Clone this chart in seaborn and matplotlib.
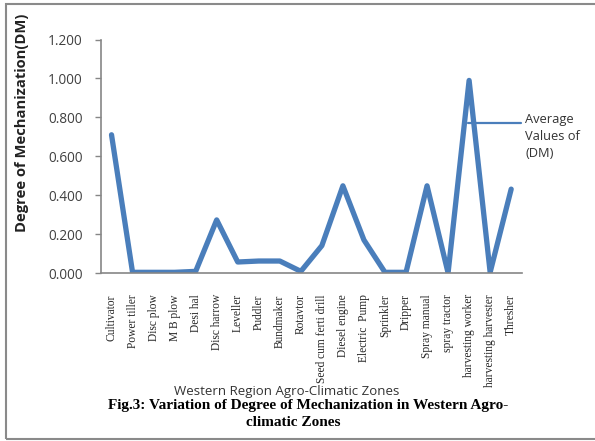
import matplotlib
matplotlib.use("Agg")
import matplotlib.pyplot as plt
from matplotlib.lines import Line2D
from matplotlib.patches import Rectangle
import seaborn as sns
import pandas as pd

implements = ["Cultivator", "Power tiller", "Disc plow", "M B plow", "Desi hal",
              "Disc harrow", "Leveller", "Puddler", "Bundmaker", "Rotavtor",
              "Seed cum ferti drill", "Diesel engine", "Electric  Pump", "Sprinkler",
              "Dripper", "Spray manual", "spray tractor", "harvesting worker",
              "harvesting harvester", "Thresher"]
dm_values = [0.711, 0.005, 0.005, 0.005, 0.010, 0.274, 0.058, 0.063, 0.063, 0.010,
             0.142, 0.449, 0.171, 0.005, 0.005, 0.449, 0.002, 0.990, 0.005, 0.432]
y_ticks = [0.0, 0.2, 0.4, 0.6, 0.8, 1.0, 1.2]
series_name = "Average\nValues of\n(DM)"

df = pd.DataFrame({"Implement": implements, "DM": dm_values})

sns.set_style("white")
plt.rcParams["font.family"] = ["Open Sans", "DejaVu Sans"]

W, H = 595, 441
fig = plt.figure(figsize=(W / 100, H / 100), dpi=100)
ax = fig.add_axes([101 / W, 1 - 273.3 / H, (521.7 - 101) / W, (273.3 - 39.5) / H])

line_color = "#4a7ebb"
sns.lineplot(data=df, x="Implement", y="DM", sort=False, ax=ax, color=line_color,
             linewidth=3.8, solid_joinstyle="round", solid_capstyle="round")

ax.set_xlim(-0.5, len(implements) - 0.5)
ax.set_ylim(0, 1.2)
ax.set_yticks(y_ticks)
ax.set_yticklabels([f"{v:.3f}" for v in y_ticks], fontsize=9.8, color="#404040")
ax.set_xticks(range(len(implements)))
ax.set_xticklabels(implements, rotation=90, fontsize=8.3,
                   family=["Liberation Serif", "DejaVu Serif"], va="top", ha="center")
ax.tick_params(axis="y", direction="out", length=4, width=1, color="#868686", pad=9, left=True)
ax.tick_params(axis="x", length=0, pad=15)
ax.set_xlabel("")
ax.set_ylabel("")
for s in ["top", "right"]:
    ax.spines[s].set_visible(False)
for s in ["left", "bottom"]:
    ax.spines[s].set_color("#868686")
    ax.spines[s].set_linewidth(1.2)

# y label
fig.text(22 / W, 1 - 123 / H, "Degree of Mechanization(DM)", rotation=90,
         ha="center", va="center", fontsize=10.6, fontweight="bold", color="#222222")
# x label
fig.text(287 / W, 1 - 391 / H, "Western Region Agro-Climatic Zones",
         ha="center", va="center", fontsize=9.5, color="#333333")
# caption
fig.text(308 / W, 1 - 405 / H, "Fig.3: Variation of Degree of Mechanization in Western Agro-",
         ha="center", va="center", fontsize=11, fontweight="bold",
         family=["Liberation Serif", "DejaVu Serif"], color="black")
fig.text(293 / W, 1 - 422 / H, "climatic Zones",
         ha="center", va="center", fontsize=11, fontweight="bold",
         family=["Liberation Serif", "DejaVu Serif"], color="black")

# legend
fig.add_artist(Line2D([468 / W, 521 / W], [1 - 122.7 / H, 1 - 122.7 / H],
                      color=line_color, linewidth=1.6, transform=fig.transFigure))
fig.text(525 / W, 1 - 113 / H, series_name, ha="left", va="top", fontsize=9.3,
         color="#333333", linespacing=1.4)

# outer frame
fig.add_artist(Rectangle((6 / W, 1 - 439 / H), 2.0, (439 - 3.5) / H,
                         transform=fig.transFigure, fill=False,
                         edgecolor="#8a8a8a", linewidth=1.5))

fig.savefig("out.png", dpi=100)
